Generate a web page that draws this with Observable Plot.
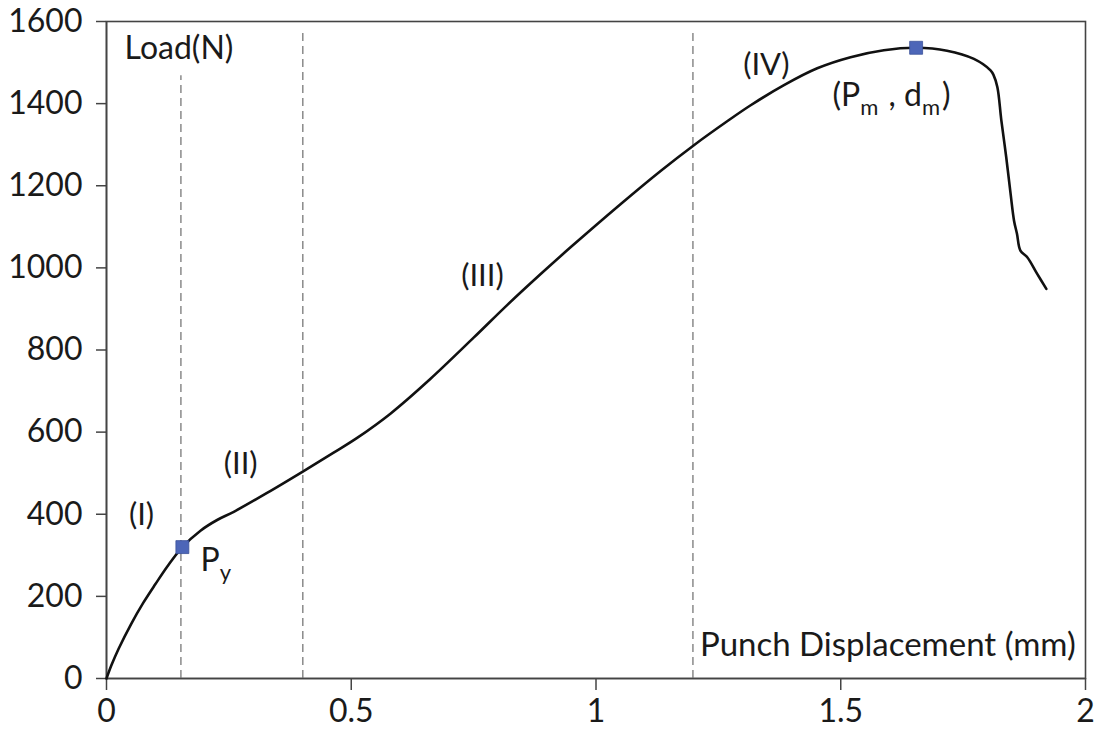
<!DOCTYPE html>
<html>
<head>
<meta charset="utf-8">
<script src="https://cdn.jsdelivr.net/npm/d3@7"></script>
<script src="https://cdn.jsdelivr.net/npm/@observablehq/plot@0.6"></script>
<style>
  html, body { margin: 0; padding: 0; background: #fff; }
  #chart { width: 1099px; height: 740px; }
</style>
</head>
<body>
<div id="chart"></div>
<script>
// Punch displacement (mm) and load (N)
const displacement = [0, 0.010, 0.025, 0.050, 0.075, 0.100, 0.125, 0.155, 0.192, 0.226, 0.260, 0.328, 0.401, 0.464, 0.512, 0.580, 0.662, 0.750, 0.819, 0.887, 0.948, 1.050, 1.132, 1.198, 1.268, 1.316, 1.384, 1.452, 1.520, 1.588, 1.654, 1.717, 1.772, 1.806, 1.812, 1.820, 1.828, 1.838, 1.847, 1.854, 1.860, 1.867, 1.881, 1.901, 1.920];
const load = [0, 32, 73, 132, 184, 230, 274, 320, 360, 386, 406, 452, 504, 550, 586, 645, 730, 830, 910, 985, 1050, 1155, 1236, 1297, 1357, 1396, 1445, 1486, 1513, 1530, 1536, 1529, 1509, 1481, 1470, 1440, 1360, 1270, 1180, 1115, 1083, 1042, 1026, 986, 949];

// Stage dividers (dashed lines)
const dividerX = [0.152, 0.401, 1.198];
const dividerTop = [1468, 1583, 1583];

// Key points: yield (Py) and maximum (Pm, dm)
const keyPointX = [0.155, 1.654];
const keyPointY = [320, 1536];
const keyLabels = ["P_y", "(P_m , d_m)"];
const keyLabelX = [0.192, 1.483];
const keyLabelY = [287, 1420];

// Stage labels
const regionLabels = ["(I)", "(II)", "(III)", "(IV)"];
const regionX = [0.0715, 0.274, 0.768, 1.348];
const regionY = [397, 521, 981, 1495];

// Axis ticks and titles
const xTicks = [0, 0.5, 1, 1.5, 2];
const yTicks = [0, 200, 400, 600, 800, 1000, 1200, 1400, 1600];
const yTitle = "Load(N)";
const xTitle = "Punch Displacement (mm)";

const curve = displacement.map((d, i) => ({x: d, y: load[i]}));
const dividers = dividerX.map((d, i) => ({x: d, top: dividerTop[i]}));
const keyPoints = keyPointX.map((d, i) => ({x: d, y: keyPointY[i]}));
const keyText = keyLabels.map((t, i) => ({t, x: keyLabelX[i], y: keyLabelY[i]}));
const regions = regionLabels.map((t, i) => ({t, x: regionX[i], y: regionY[i]}));

const font = "Lato, 'Open Sans', sans-serif";
const textColor = "#1a1a1a";

const plot = Plot.plot({
  width: 1099,
  height: 740,
  marginLeft: 106,
  marginRight: 14,
  marginTop: 21,
  marginBottom: 62,
  style: {fontFamily: font, background: "#fff", color: textColor},
  x: {domain: [0, 2], ticks: xTicks},
  y: {domain: [0, 1600], ticks: yTicks},
  marks: [
    Plot.frame({stroke: "#444", strokeWidth: 1.6}),
    Plot.ruleX(dividers, {x: "x", y1: 0, y2: "top", stroke: "#8a8a8a", strokeWidth: 1.5, strokeDasharray: "8,5"}),
    Plot.axisY({ticks: yTicks, tickSize: 10, tickPadding: 14, fontSize: 32, fontFamily: font, label: null, stroke: "#444", strokeWidth: 1.5, fill: textColor, tickFormat: d => String(d)}),
    Plot.axisX({ticks: xTicks, tickSize: 12, tickPadding: 9, fontSize: 32, fontFamily: font, label: null, stroke: "#444", strokeWidth: 1.5, fill: textColor, tickFormat: d => String(d)}),
    Plot.ruleY([0], {stroke: "#444", strokeWidth: 1.6}),
    Plot.ruleX([0], {stroke: "#444", strokeWidth: 1.6}),
    Plot.line(curve, {x: "x", y: "y", curve: "catmull-rom", stroke: "#111", strokeWidth: 2.6}),
    Plot.dot(keyPoints, {x: "x", y: "y", symbol: "square", r: 7.3, fill: "#4d66b8", stroke: "#3b5199", strokeWidth: 0.8}),
    Plot.text(regions, {x: "x", y: "y", text: "t", fontSize: 31, fontFamily: font, fill: textColor}),
    Plot.text(keyText, {x: "x", y: "y", text: "t", textAnchor: "start", fontSize: 32, fontFamily: font, fill: textColor}),
    Plot.text([yTitle], {x: 0.037, y: 1534, text: d => d, textAnchor: "start", fontSize: 32, fontFamily: font, fill: textColor}),
    Plot.text([xTitle], {x: 1.98, y: 80, text: d => d, textAnchor: "end", fontSize: 33, fontFamily: font, fill: textColor})
  ]
});

// Render "_x" as a subscript
d3.select(plot).selectAll("text").each(function () {
  const s = this.textContent;
  if (!s.includes("_")) return;
  const parts = s.split(/_(\w)/);
  const el = d3.select(this);
  el.text(null);
  parts.forEach((p, i) => {
    if (p === "") return;
    if (i % 2 === 1) {
      el.append("tspan").attr("font-size", 22).attr("dy", 9).text(p);
      el.append("tspan").attr("dy", -9).text("\u200a");
    } else {
      el.append("tspan").text(p);
    }
  });
});

document.getElementById("chart").appendChild(plot);
</script>
</body>
</html>
